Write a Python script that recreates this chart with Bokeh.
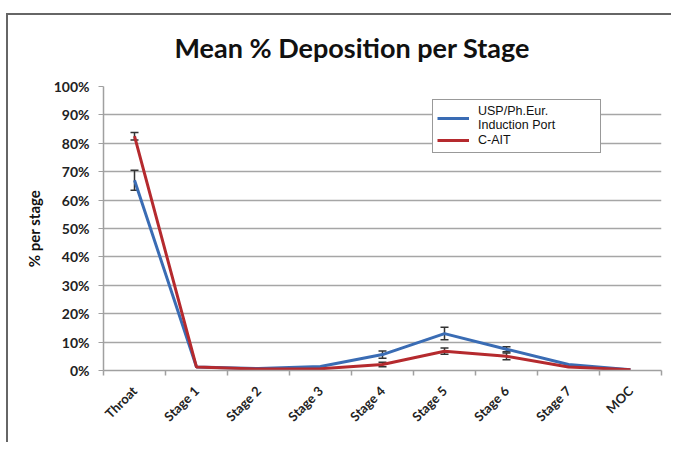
import math
from bokeh.plotting import figure
from bokeh.models import (Range1d, FixedTicker, NumeralTickFormatter, Whisker, TeeHead,
                          ColumnDataSource, Legend, LegendItem, Title)
from bokeh.embed import file_html
from bokeh.resources import INLINE

categories = ["Throat", "Stage 1", "Stage 2", "Stage 3", "Stage 4", "Stage 5", "Stage 6", "Stage 7", "MOC"]
usp_mean = [0.67, 0.012, 0.007, 0.014, 0.056, 0.130, 0.075, 0.021, 0.003]
usp_err = [0.035, 0.0, 0.0, 0.0, 0.013, 0.022, 0.009, 0.0, 0.0]
cait_mean = [0.825, 0.012, 0.005, 0.006, 0.021, 0.068, 0.050, 0.012, 0.003]
cait_err = [0.013, 0.0, 0.0, 0.0, 0.008, 0.011, 0.012, 0.0, 0.0]
y_ticks = [i / 10 for i in range(11)]

xs = [i + 0.5 for i in range(len(categories))]

BLUE = "#3a6cb4"
RED = "#b52a2e"
FONT = "Lato"

p = figure(width=665, height=429, output_backend="svg", toolbar_location=None,
           x_range=Range1d(0, len(categories)), y_range=Range1d(0, 1),
           min_border_left=95, min_border_right=12, min_border_top=71, min_border_bottom=74)
p.styles = {"border-top": "2px solid #666666", "border-left": "2px solid #666666",
            "margin-top": "13px", "margin-left": "6px"}
p.title = None

# spacer between the title and the plot area (added first: nearest the plot)
p.add_layout(Title(text=" ", text_font_size="1px", standoff=6), "above")
p.add_layout(Title(text="Mean % Deposition per Stage", text_font=FONT, text_font_size="27px",
                   text_font_style="bold", text_color="#111111", align="left", offset=71,
                   vertical_align="middle", standoff=26), "above")

p.outline_line_color = None
p.background_fill_color = "white"
p.border_fill_color = "white"

# grid
p.xgrid.grid_line_color = None
p.ygrid.ticker = FixedTicker(ticks=y_ticks)
p.ygrid.grid_line_color = "#a6a6a6"
p.ygrid.grid_line_width = 1.5

# y axis
p.yaxis.ticker = FixedTicker(ticks=y_ticks)
p.yaxis.formatter = NumeralTickFormatter(format="0%")
p.yaxis.axis_label = "% per stage"
p.yaxis.axis_label_text_font = FONT
p.yaxis.axis_label_text_font_size = "15px"
p.yaxis.axis_label_text_font_style = "bold"
p.yaxis.axis_label_text_color = "#111111"
p.yaxis.axis_label_standoff = 8
p.yaxis.major_label_text_font = FONT
p.yaxis.major_label_text_font_size = "14px"
p.yaxis.major_label_text_font_style = "bold"
p.yaxis.major_label_text_color = "#222222"
p.yaxis.major_label_standoff = 9
p.yaxis.axis_line_color = "#a0a0a0"
p.yaxis.axis_line_width = 1.5
p.yaxis.major_tick_line_color = "#a0a0a0"
p.yaxis.major_tick_out = 5
p.yaxis.major_tick_in = 0
p.yaxis.minor_tick_line_color = None

# x axis
p.xaxis.ticker = FixedTicker(ticks=xs, minor_ticks=list(range(len(categories) + 1)))
p.xaxis.major_label_overrides = {x: c for x, c in zip(xs, categories)}
p.xaxis.major_label_orientation = math.pi / 4
p.xaxis.major_label_text_font = FONT
p.xaxis.major_label_text_font_size = "13px"
p.xaxis.major_label_text_font_style = "bold"
p.xaxis.major_label_text_color = "#222222"
p.xaxis.major_label_standoff = 12
p.xaxis.major_tick_line_color = None
p.xaxis.minor_tick_line_color = "#a0a0a0"
p.xaxis.minor_tick_line_width = 1.5
p.xaxis.minor_tick_out = 5
p.xaxis.minor_tick_in = 0
p.xaxis.axis_line_color = "#a0a0a0"
p.xaxis.axis_line_width = 1.5

r_usp = p.line(xs, usp_mean, line_color=BLUE, line_width=3)
r_cait = p.line(xs, cait_mean, line_color=RED, line_width=3)

for mean, err in ((usp_mean, usp_err), (cait_mean, cait_err)):
    bx = [x for x, e in zip(xs, err) if e > 0]
    up = [m + e for m, e in zip(mean, err) if e > 0]
    lo = [m - e for m, e in zip(mean, err) if e > 0]
    src = ColumnDataSource(dict(x=bx, upper=up, lower=lo))
    w = Whisker(base="x", upper="upper", lower="lower", source=src,
                line_color="#333333", line_width=1.5,
                upper_head=TeeHead(size=8, line_color="#333333", line_width=1.5),
                lower_head=TeeHead(size=8, line_color="#333333", line_width=1.5))
    p.add_layout(w)

legend = Legend(items=[LegendItem(label="USP/Ph.Eur.\nInduction Port", renderers=[r_usp]),
                       LegendItem(label="C-AIT", renderers=[r_cait])],
                location=(329, 217))
legend.label_text_font = "Liberation Sans"
legend.label_text_font_size = "12.5px"
legend.label_text_line_height = 1.3
legend.label_text_color = "#111111"
legend.border_line_color = "#333333"
legend.border_line_width = 1
legend.background_fill_color = "white"
legend.background_fill_alpha = 1
legend.glyph_width = 32
legend.glyph_height = 14
legend.label_standoff = 9
legend.label_width = 118
legend.padding = 4
legend.spacing = 0
legend.margin = 0
legend.label_height = 16
p.add_layout(legend, "center")

open("out.html", "w").write(file_html(p, INLINE))
